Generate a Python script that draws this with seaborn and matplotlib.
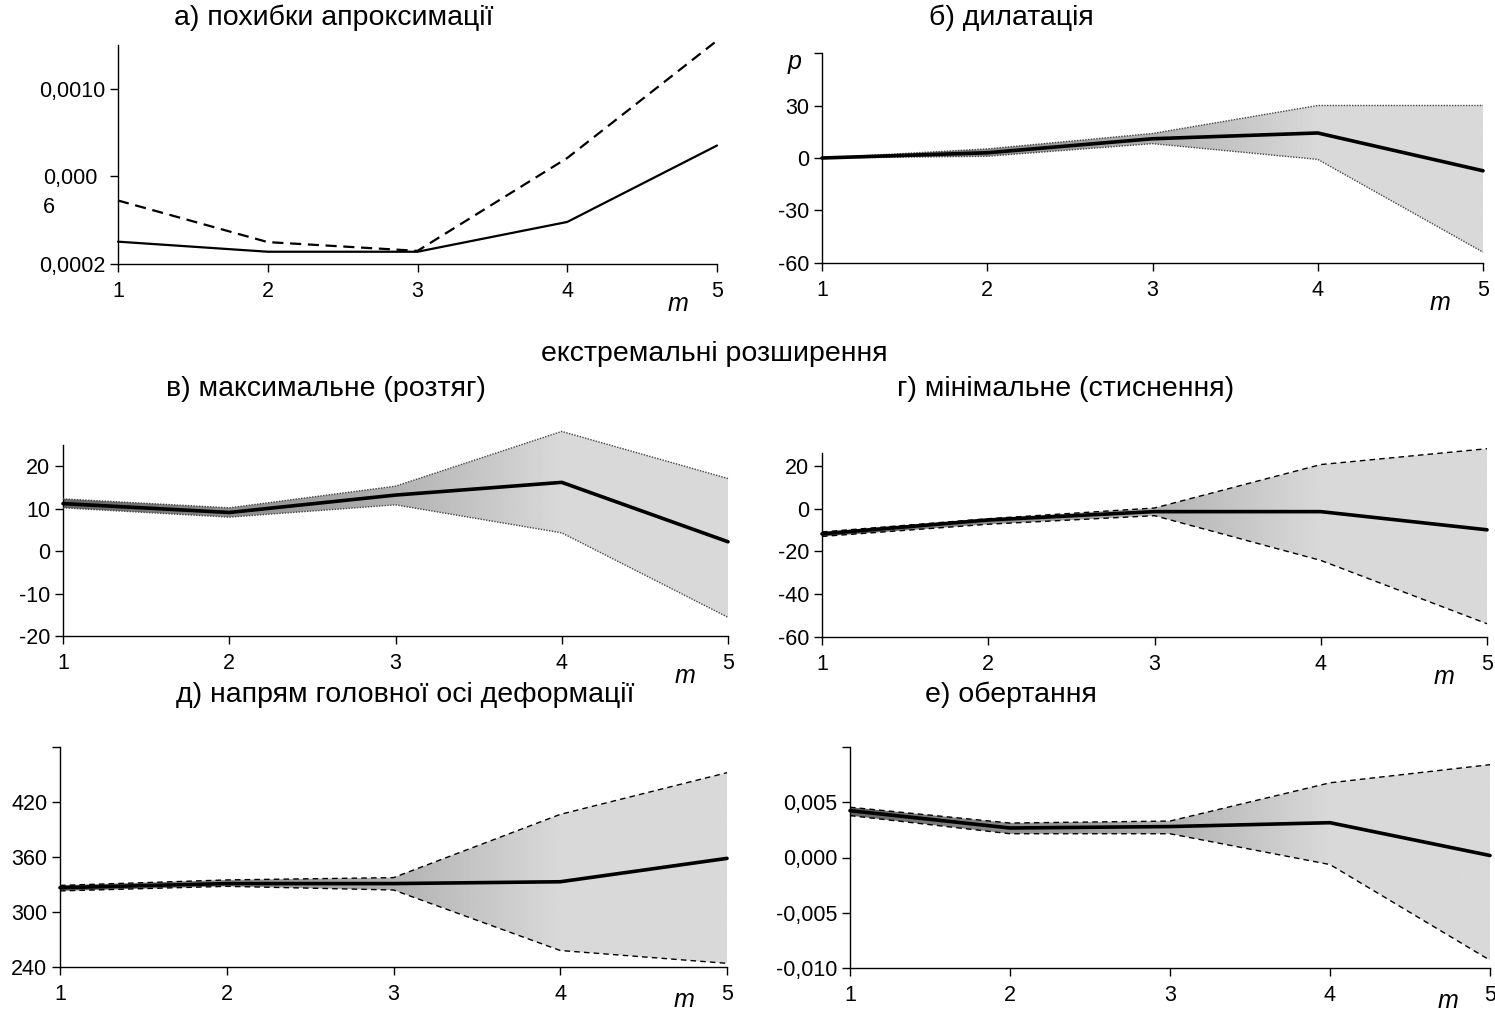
import numpy as np
import matplotlib.pyplot as plt
import seaborn as sns

# =========================
# Data
# =========================
m = [1, 2, 3, 4, 5]

# а) похибки апроксимації
err_solid = [0.000302, 0.000256, 0.000256, 0.000392, 0.000741]
err_dashed = [0.00049, 0.00030, 0.00026, 0.000684, 0.00122]

# б) дилатація
dil_mean = [0, 3, 11, 14.3, -7.3]
dil_hi = [0, 5.2, 14, 30, 30]
dil_lo = [0, 1, 8.2, -0.8, -53.8]

# в) максимальне (розтяг)
emax_mean = [11.2, 9.1, 13.2, 16.2, 2.2]
emax_hi = [12.3, 10.2, 15.3, 28.2, 17.1]
emax_lo = [10.2, 8.0, 10.9, 4.3, -15.6]

# г) мінімальне (стиснення)
emin_mean = [-11.8, -5.3, -1.4, -1.4, -9.9]
emin_hi = [-10.9, -4.7, 0.3, 20.6, 28.0]
emin_lo = [-13.0, -7.3, -3.3, -24.2, -53.8]

# д) напрям головної осі деформації
az_mean = [326.5, 331, 331, 333, 358.5]
az_hi = [329, 335, 337.5, 406.5, 452]
az_lo = [323, 328, 324, 258, 244]

# е) обертання
rot_mean = [0.00424, 0.00267, 0.0028, 0.00315, 0.00018]
rot_hi = [0.00455, 0.00312, 0.0033, 0.00676, 0.0084]
rot_lo = [0.00379, 0.00215, 0.00215, -0.00064, -0.0093]

# tick values / labels
x_labels = ["1", "2", "3", "4", "5"]
yt_a = [0.0002, 0.0006, 0.0010]
yl_a = ["0,0002", "", "0,0010"]
yt_b = [-60, -30, 0, 30, 60]
yl_b = ["-60", "-30", "0", "30", ""]
yt_c = [-20, -10, 0, 10, 20]
yl_c = ["-20", "-10", "0", "10", "20"]
yt_d = [-60, -40, -20, 0, 20]
yl_d = ["-60", "-40", "-20", "0", "20"]
yt_e = [240, 300, 360, 420, 480]
yl_e = ["240", "300", "360", "420", ""]
yt_f = [-0.010, -0.005, 0.000, 0.005, 0.010]
yl_f = ["-0,010", "-0,005", "0,000", "0,005", ""]

# =========================
# Style
# =========================
sns.set_theme(style="ticks")
plt.rcParams["font.family"] = ["Liberation Sans", "DejaVu Sans"]
plt.rcParams["axes.linewidth"] = 1.0
for key in ["text.color", "axes.labelcolor", "xtick.color", "ytick.color", "axes.edgecolor"]:
    plt.rcParams[key] = "black"

W, H = 1495, 1011
fig = plt.figure(figsize=(W / 100, H / 100), dpi=100)


def add_ax(left, right, top, bottom, yrange, ytop_data=None):
    # top/bottom are the pixel rows of the visible y-axis (yrange);
    # the axes box is stretched upward when the data go above the spine top
    y0, y1 = yrange
    if ytop_data is not None and ytop_data > y1:
        extra = (ytop_data - y1) / (y1 - y0) * (bottom - top)
        top = top - extra
    ax = fig.add_axes([left / W, 1 - bottom / H, (right - left) / W, (bottom - top) / H])
    return ax


def base_axes(ax, yrange, yticks, ylabels, ytop_data=None, m_offset=-40):
    y0, y1 = yrange
    ax.set_xlim(1, 5)
    if ytop_data is not None and ytop_data > y1:
        ax.set_ylim(y0, ytop_data)
    else:
        ax.set_ylim(y0, y1)
    ax.set_xticks(m)
    ax.set_xticklabels(x_labels)
    ax.set_yticks(yticks)
    ax.set_yticklabels(ylabels)
    ax.tick_params(axis="both", direction="out", length=6, width=1, color="black",
                   labelsize=15.5, pad=3)
    ax.tick_params(axis="x", pad=6)
    sns.despine(ax=ax)
    ax.spines["left"].set_bounds(y0, y1)
    ax.set_xlabel("")
    ax.set_ylabel("")
    ax.annotate("m", xy=(0.935, 0), xycoords="axes fraction", xytext=(0, m_offset),
                textcoords="offset pixels", ha="center", va="center",
                fontsize=18, style="italic")


def band_panel(ax, mean, lo, hi, edge_ls, edge_color, yrange, yticks, ylabels, m_offset=-40):
    # gradient shading between the lower and upper curves
    gx = np.linspace(1, 5, 600)
    shade = np.interp(gx, [1, 4, 5], [0.40, 0.85, 0.85])
    img = ax.imshow(shade[np.newaxis, :], extent=(1, 5, min(lo), max(hi)),
                    aspect="auto", cmap="gray", vmin=0, vmax=1, origin="lower",
                    interpolation="bilinear", zorder=1)
    poly = ax.fill_between(m, lo, hi, facecolor="none", edgecolor="none")
    img.set_clip_path(poly.get_paths()[0], ax.transData)
    sns.lineplot(x=m, y=hi, ax=ax, color=edge_color, lw=1.0, linestyle=edge_ls,
                 zorder=3, clip_on=False)
    sns.lineplot(x=m, y=lo, ax=ax, color=edge_color, lw=1.0, linestyle=edge_ls,
                 zorder=3, clip_on=False)
    sns.lineplot(x=m, y=mean, ax=ax, color="black", lw=2.6, zorder=4, clip_on=False)
    base_axes(ax, yrange, yticks, ylabels, ytop_data=max(hi), m_offset=m_offset)


dotted = (0, (1, 1))
dashed = (0, (4, 3))

# а) похибки апроксимації
ax_a = add_ax(118, 717, 45, 264, (0.0002, 0.0012))
sns.lineplot(x=m, y=err_solid, ax=ax_a, color="black", lw=1.6, clip_on=False)
sns.lineplot(x=m, y=err_dashed, ax=ax_a, color="black", lw=1.6,
             linestyle=(0, (5, 3)), clip_on=False)
base_axes(ax_a, (0.0002, 0.0012), yt_a, yl_a)
ax_a.annotate("0,000\n6", xy=(0, 0.0006), xycoords=("axes fraction", "data"),
              xytext=(-75, 8), textcoords="offset pixels", ha="left", va="top",
              fontsize=15.5, linespacing=1.45)

# б) дилатація
yr_b = (-60, 60)
ax_b = add_ax(822, 1483, 53, 263, yr_b, max(dil_hi))
band_panel(ax_b, dil_mean, dil_lo, dil_hi, dotted, "#444444", yr_b, yt_b, yl_b)
ax_b.annotate("p", xy=(0, 1), xycoords="axes fraction", xytext=(-27, -9),
              textcoords="offset pixels", ha="center", va="center",
              fontsize=18, style="italic")

# в) максимальне (розтяг)
yr_c = (-20, 25)
ax_c = add_ax(63, 728, 445, 636, yr_c, max(emax_hi))
band_panel(ax_c, emax_mean, emax_lo, emax_hi, dotted, "#444444", yr_c, yt_c, yl_c)

# г) мінімальне (стиснення)
yr_d = (-60, 26)
ax_d = add_ax(822, 1487, 453, 637, yr_d, max(emin_hi))
band_panel(ax_d, emin_mean, emin_lo, emin_hi, dashed, "black", yr_d, yt_d, yl_d)

# д) напрям головної осі деформації
yr_e = (240, 480)
ax_e = add_ax(60, 727, 747, 967, yr_e, max(az_hi))
band_panel(ax_e, az_mean, az_lo, az_hi, dashed, "black", yr_e, yt_e, yl_e, m_offset=-33)

# е) обертання
yr_f = (-0.010, 0.010)
ax_f = add_ax(850, 1490, 747, 968, yr_f, max(rot_hi))
band_panel(ax_f, rot_mean, rot_lo, rot_hi, dashed, "black", yr_f, yt_f, yl_f, m_offset=-33)

# =========================
# Titles
# =========================
title_kw = dict(fontsize=20.5, ha="center", va="center")
fig.text(334 / W, 1 - 18 / H, "а) похибки апроксимації", **title_kw)
fig.text(1011 / W, 1 - 18 / H, "б) дилатація", **title_kw)
fig.text(714 / W, 1 - 354 / H, "екстремальні розширення", **title_kw)
fig.text(326 / W, 1 - 389 / H, "в) максимальне (розтяг)", **title_kw)
fig.text(1066 / W, 1 - 389 / H, "г) мінімальне (стиснення)", **title_kw)
fig.text(405 / W, 1 - 695 / H, "д) напрям головної осі деформації", **title_kw)
fig.text(1011 / W, 1 - 695 / H, "е) обертання", **title_kw)

fig.savefig("out.png", dpi=100)
